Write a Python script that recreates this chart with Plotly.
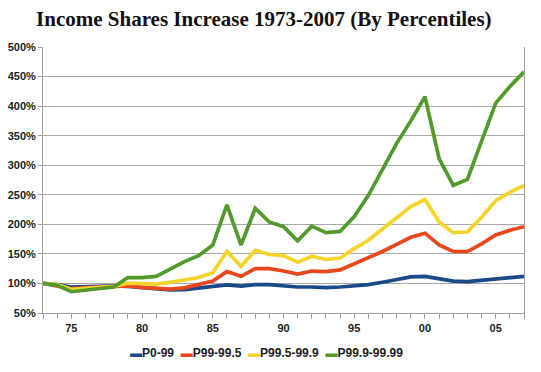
import plotly.graph_objects as go

years = list(range(1973, 2008))
p0_99 = [100, 98, 94, 95, 96, 96, 95, 93, 92, 89, 89.5, 92.5, 95, 97.5, 95.5, 98, 98, 96, 94,
         94, 93, 94, 95.5, 98, 102, 107, 111, 112, 108, 104, 103, 105, 107, 108.5, 112]
p99_995 = [100, 96, 91, 93, 94, 95, 96, 93.5, 92, 90.5, 92.5, 99, 104, 120, 112, 125, 125, 121, 116,
           121, 120, 123, 133, 143, 154, 166, 178, 185, 165, 154, 154, 167, 182, 190, 196]
p995_999 = [100, 98, 90, 92, 94, 95, 100.5, 100, 99, 102, 106, 110, 118, 154, 129, 156, 149, 147, 136,
            146, 140.5, 143, 159, 173, 192, 212, 230, 242, 204, 186, 187, 212, 240, 254, 266]
p999_9999 = [100, 97, 86, 89, 92, 94, 110, 110, 112, 124, 137, 147, 165, 233, 165, 227, 204, 196, 172,
             197, 186, 188, 213, 249, 294, 337, 375, 416, 311, 266, 276, 341, 405, 433, 458]

series = [
    ("P0-99", p0_99, "#1a4a8a"),
    ("P99-99.5", p99_995, "#e8471e"),
    ("P99.5-99.9", p995_999, "#f5d42a"),
    ("P99.9-99.99", p999_9999, "#519a2b"),
]

tick_text = [str(y)[2:] if y % 5 == 0 else "" for y in years]

fig = go.Figure()
for name, vals, col in series:
    fig.add_trace(go.Scatter(x=years, y=vals, name=name, mode="lines",
                             line=dict(color=col, width=3.7), showlegend=False))

legend_text = "&nbsp;&nbsp;".join(
    f"<span style='color:{col}'>▬</span>{name}" for name, _, col in series)

# page body has an 8px default margin, so the figure is sized to fit the window
fig.update_layout(
    width=533, height=364,
    margin=dict(l=35, r=17, t=39, b=59, autoexpand=False),
    paper_bgcolor="white", plot_bgcolor="white",
    title=dict(text="Income Shares Increase 1973-2007 (By Percentiles)",
               x=0.48, xanchor="center", y=0.972, yanchor="middle",
               font=dict(family="Liberation Serif", size=21, color="#111", weight="bold")),
    annotations=[dict(text=legend_text, xref="paper", yref="paper", x=0.465, y=-0.15,
                      xanchor="center", yanchor="middle", showarrow=False,
                      font=dict(family="Liberation Sans", size=12, color="#222", weight="bold"))],
    font=dict(family="Liberation Sans", color="#222"),
)
fig.update_xaxes(range=[1973, 2007], tickmode="array", tickvals=years, ticktext=tick_text,
                 showgrid=False, showline=True, linecolor="#a0a0a0", linewidth=1,
                 ticks="outside", ticklen=5, tickcolor="#a0a0a0", automargin=False,
                 tickfont=dict(family="Liberation Sans", size=11, color="#222", weight="bold"),
                 zeroline=False)
fig.update_yaxes(range=[50, 500], dtick=50, ticksuffix="%", showgrid=True, gridcolor="#a8a8a8",
                 showline=True, linecolor="#a0a0a0", mirror=True, automargin=False,
                 ticks="outside", ticklen=4, tickcolor="#a0a0a0",
                 tickfont=dict(family="Liberation Sans", size=11, color="#222", weight="bold"),
                 zeroline=False)

fig.write_html("out.html")
